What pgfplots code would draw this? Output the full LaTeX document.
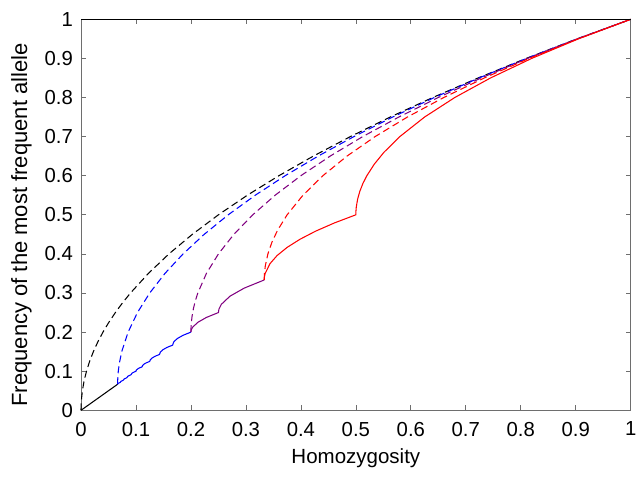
\documentclass[border=0pt]{standalone}
\usepackage{fontspec}
\setmainfont{Liberation Sans}
\usepackage{pgfplots}
\pgfplotsset{compat=1.18}
\definecolor{axgray}{RGB}{110,110,110}
\definecolor{mpurple}{RGB}{128,0,128}
\begin{document}
\begin{tikzpicture}
\begin{axis}[
  scale only axis, width=549.7pt, height=391pt,
  xmin=0, xmax=1, ymin=0, ymax=1,
  clip=false,
  xtick={0,0.1,0.2,0.3,0.4,0.5,0.6,0.7,0.8,0.9,1},
  ytick={0,0.1,0.2,0.3,0.4,0.5,0.6,0.7,0.8,0.9,1},
  xticklabels={0,0.1,0.2,0.3,0.4,0.5,0.6,0.7,0.8,0.9,1},
  yticklabels={0,0.1,0.2,0.3,0.4,0.5,0.6,0.7,0.8,0.9,1},
  tick align=inside, major tick length=5pt,
  tick style={axgray, line width=0.7pt},
  axis line style={axgray, line width=0.9pt},
  /pgf/number format/assume math mode=true,
  tick label style={font=\fontsize{20.3}{23}\selectfont},
  xticklabel style={inner sep=0pt, anchor=north, yshift=-11.5pt},
  yticklabel style={inner sep=0pt, anchor=east, xshift=-8pt},
  xlabel={Homozygosity},
  ylabel={Frequency of the most frequent allele},
  xlabel style={font=\fontsize{20.5}{24}\selectfont, at={(axis description cs:0.5,-0.1348)}, anchor=base},
  ylabel style={font=\fontsize{22}{24}\selectfont, at={(axis description cs:-0.0982,0.474)}, anchor=base},
  every axis plot/.append style={line width=1.05pt},
]
\coordinate (ll) at (rel axis cs:0,0);
\coordinate (ur) at (rel axis cs:1,1);
% K = infinity upper bound (black dashed)
\addplot[black, dash pattern=on 7pt off 4pt] coordinates {
(0,0) (0.0001,0.01) (0.000625,0.025) (0.0025,0.05) (0.005625,0.075) (0.01,0.1)
(0.015625,0.125) (0.0225,0.15) (0.030625,0.175) (0.04,0.2) (0.050625,0.225)
(0.0625,0.25) (0.075625,0.275) (0.09,0.3) (0.1225,0.35) (0.16,0.4) (0.2025,0.45)
(0.25,0.5) (0.3025,0.55) (0.36,0.6) (0.4225,0.65) (0.49,0.7) (0.5625,0.75)
(0.64,0.8) (0.7225,0.85) (0.81,0.9) (0.9025,0.95) (1,1)};
% lower bound near zero (black solid)
\addplot[black] coordinates {(0,0) (0.066667,0.066667)};
% K = 15 upper bound (blue dashed)
\addplot[blue, dash pattern=on 7pt off 4pt] coordinates {
(0.066667,0.066667) (0.066679,0.07) (0.066741,0.075) (0.066857,0.08) (0.06725,0.09)
(0.067857,0.1) (0.069714,0.12) (0.074107,0.15) (0.085714,0.2) (0.102679,0.25)
(0.125,0.3) (0.152679,0.35) (0.185714,0.4) (0.224107,0.45) (0.267857,0.5)
(0.316964,0.55) (0.371429,0.6) (0.43125,0.65) (0.496429,0.7) (0.566964,0.75)
(0.642857,0.8) (0.724107,0.85) (0.810714,0.9) (0.902679,0.95) (1,1)};
% lower bound 1/15..1/5 (blue solid)
\addplot[blue] coordinates {
(0.066667,0.066667) (0.067857,0.069048) (0.071429,0.071429) (0.072802,0.074176)
(0.076923,0.076923) (0.078526,0.080128) (0.083333,0.083333) (0.085227,0.087121)
(0.090909,0.090909) (0.093182,0.095455) (0.1,0.1) (0.100694,0.102778)
(0.102778,0.105556) (0.10625,0.108333) (0.111111,0.111111) (0.111979,0.114583)
(0.114583,0.118056) (0.118924,0.121528) (0.125,0.125) (0.126116,0.129464)
(0.129464,0.133929) (0.135045,0.138393) (0.142857,0.142857) (0.144345,0.14881)
(0.14881,0.154762) (0.15625,0.160714) (0.166667,0.166667) (0.16875,0.175)
(0.175,0.183333) (0.185417,0.191667) (0.2,0.2)};
% K = 5 upper bound (purple dashed)
\addplot[mpurple, dash pattern=on 7pt off 4pt] coordinates {
(0.2,0.2) (0.200125,0.21) (0.2005,0.22) (0.202,0.24) (0.2045,0.26) (0.208,0.28)
(0.2125,0.3) (0.228125,0.35) (0.25,0.4) (0.278125,0.45) (0.3125,0.5)
(0.353125,0.55) (0.4,0.6) (0.453125,0.65) (0.5125,0.7) (0.578125,0.75)
(0.65,0.8) (0.728125,0.85) (0.8125,0.9) (0.903125,0.95) (1,1)};
% lower bound 1/5..1/3 (purple solid)
\addplot[mpurple] coordinates {
(0.2,0.2) (0.2005,0.205) (0.203125,0.2125) (0.2125,0.225) (0.228125,0.2375)
(0.25,0.25) (0.250833,0.258333) (0.255208,0.270833) (0.270833,0.291667)
(0.296875,0.3125) (0.333333,0.333333)};
% K = 3 upper bound (red dashed)
\addplot[red, dash pattern=on 7pt off 4pt] coordinates {
(0.333333,0.333333) (0.3334,0.34) (0.33375,0.35) (0.33535,0.37) (0.34,0.4)
(0.34735,0.43) (0.3574,0.46) (0.375,0.5) (0.40375,0.55) (0.44,0.6)
(0.48375,0.65) (0.535,0.7) (0.59375,0.75) (0.66,0.8) (0.73375,0.85)
(0.815,0.9) (0.90375,0.95) (1,1)};
% lower bound 1/3..1 (red solid)
\addplot[red] coordinates {
(0.333333,0.333333) (0.33375,0.341667) (0.335,0.35) (0.34375,0.375)
(0.356771,0.395833) (0.375,0.416667) (0.398437,0.4375) (0.427083,0.458333)
(0.460937,0.479167) (0.5,0.5) (0.5002,0.51) (0.5008,0.52) (0.5032,0.54)
(0.5072,0.56) (0.5128,0.58) (0.52,0.6) (0.5338,0.63) (0.5512,0.66) (0.58,0.7)
(0.625,0.75) (0.68,0.8) (0.745,0.85) (0.82,0.9) (0.905,0.95) (1,1)};
\draw[black, line width=0.9pt] (rel axis cs:0,1) -- (rel axis cs:1,1);
\end{axis}
\pgfresetboundingbox
\path[use as bounding box] ([shift={(-81pt,-68.7pt)}]ll) rectangle ([shift={(13.3pt,19.3pt)}]ur);
\end{tikzpicture}
\end{document}
